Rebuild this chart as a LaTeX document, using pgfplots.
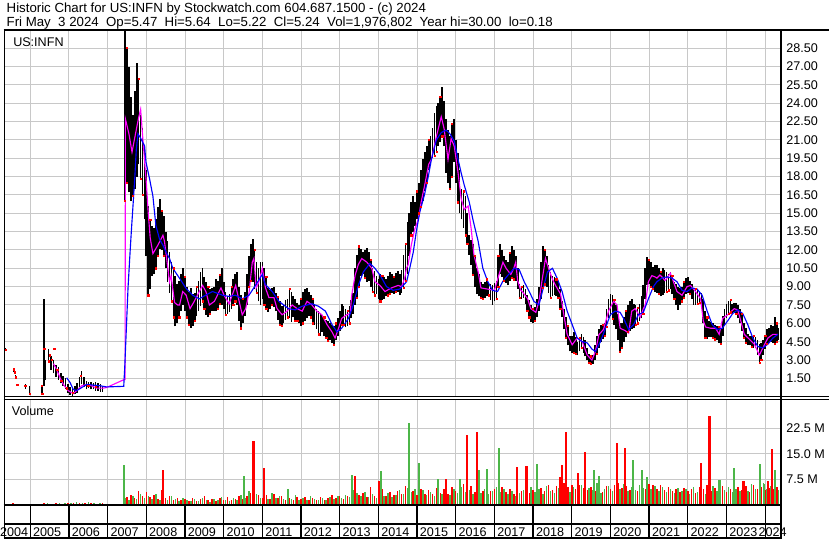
\documentclass[border=0pt]{standalone}
\usepackage{fontspec}
\setmainfont{Liberation Sans}
\usepackage{pgfplots}
\usepackage{pgfplotstable}
\pgfplotsset{compat=1.18}
\definecolor{gridc}{RGB}{200,200,200}
\definecolor{vgreen}{RGB}{76,182,72}
\definecolor{vred}{RGB}{255,0,0}
\definecolor{mag}{RGB}{255,0,255}
\definecolor{ablue}{RGB}{0,0,255}
\newcommand{\fs}{\fontsize{9.5}{11}\selectfont}
\newcommand{\ft}{\fontsize{10}{12}\selectfont}

\pgfplotstableread{
Y lo hi
2004.36 3.75 3.95
2004.57 2.0 2.3
2004.62 1.6 1.8
2004.66 0.9 1.05
2004.87 0.65 1.0
2004.98 0.25 0.9
2005.30 0.2 0.95
2005.36 0.9 8.0
2005.39 1.4 3.0
2005.47 2.9 3.9
2005.53 2.2 3.3
2005.60 1.9 3.0
2005.66 1.6 2.6
2005.73 1.4 2.4
2005.79 1.1 1.9
2005.85 0.9 1.7
2005.91 0.6 1.5
2005.97 0.3 1.0
2006.03 0.15 0.8
2006.09 0.05 0.7
2006.15 0.2 0.9
2006.21 0.3 1.1
2006.27 0.8 1.6
2006.33 1.0 2.1
2006.39 0.8 1.6
2006.45 0.6 1.3
2006.51 0.7 1.2
2006.57 0.6 1.2
2006.63 0.6 1.1
2006.69 0.5 1.2
2006.75 0.5 1.1
2006.81 0.4 1.0
2006.87 0.4 0.9
}\pre

\pgfplotstableread{
Y lo hi
2007.45 16.0 30.0
2007.55 16.7 27.0
2007.65 16.4 23.0
2007.75 18.0 27.3
2007.85 17.8 23.0
2007.95 14.5 20.5
2008.05 8.3 15.6
2008.15 9.9 14.0
2008.25 10.5 14.5
2008.35 12.1 16.2
2008.45 11.5 14.8
2008.55 9.4 12.7
2008.65 7.8 11.0
2008.75 5.75 9.9
2008.85 6.5 9.5
2008.95 7.5 10.5
2009.05 6.5 9.0
2009.15 5.6 8.9
2009.25 6.2 8.5
2009.35 7.0 9.5
2009.45 7.8 10.5
2009.55 6.7 9.4
2009.65 6.8 8.8
2009.75 7.0 9.0
2009.85 7.2 9.5
2009.95 7.5 10.5
2010.05 6.7 8.6
2010.15 6.9 8.4
2010.25 7.5 9.6
2010.35 7.5 10.2
2010.45 5.6 8.3
2010.55 6.6 8.6
2010.65 9.0 11.5
2010.75 9.4 12.9
2010.85 8.5 11.0
2010.95 7.5 11.0
2011.05 7.5 10.5
2011.15 6.96 8.9
2011.25 7.5 8.9
2011.35 7.0 8.5
2011.45 5.9 7.8
2011.55 6.0 7.5
2011.65 6.5 8.0
2011.75 6.15 8.6
2011.85 6.2 8.0
2011.95 6.0 7.5
2012.05 6.0 8.6
2012.15 6.4 8.9
2012.25 6.5 8.3
2012.35 5.9 7.6
2012.45 5.1 7.0
2012.55 5.3 6.7
2012.65 4.8 6.3
2012.75 4.6 6.0
2012.85 4.25 5.8
2012.95 5.0 6.4
2013.05 5.9 7.6
2013.15 5.7 7.2
2013.25 6.0 7.4
2013.35 6.8 8.5
2013.45 8.1 11.6
2013.55 9.9 12.1
2013.65 9.7 12.0
2013.75 9.5 11.8
2013.85 8.6 10.5
2013.95 8.4 9.9
2014.05 7.8 10.0
2014.15 8.0 9.8
2014.25 8.3 9.9
2014.35 8.5 10.0
2014.45 8.6 10.1
2014.55 8.3 10.0
2014.65 8.9 11.6
2014.75 10.0 14.3
2014.85 13.2 15.9
2014.95 14.0 15.9
2015.05 15.0 17.5
2015.15 16.0 19.4
2015.25 17.5 20.5
2015.35 19.0 21.3
2015.45 19.7 23.2
2015.55 20.5 24.0
2015.65 21.3 25.3
2015.75 18.3 22.7
2015.85 17.0 21.3
2015.95 19.2 22.7
2016.05 15.9 19.9
2016.15 14.5 17.0
2016.25 13.2 16.4
2016.35 11.6 13.2
2016.45 10.0 12.5
2016.55 8.4 10.5
2016.65 8.1 9.4
2016.75 8.1 9.4
2016.85 8.3 9.3
2016.95 7.5 9.1
2017.05 8.0 9.5
2017.15 10.0 12.5
2017.25 9.5 11.5
2017.35 9.1 11.0
2017.45 9.7 12.3
2017.55 9.5 11.5
2017.65 8.1 9.2
2017.75 8.1 9.1
2017.85 7.0 8.3
2017.95 6.1 7.5
2018.05 6.2 7.3
2018.15 7.0 9.0
2018.25 8.9 12.3
2018.35 9.0 11.5
2018.45 8.1 10.2
2018.55 8.3 9.8
2018.65 8.1 9.5
2018.75 6.5 7.8
2018.85 4.8 6.5
2018.95 3.7 5.0
2019.05 3.6 5.3
2019.15 3.4 4.5
2019.25 4.0 5.1
2019.35 3.3 4.6
2019.45 2.8 3.5
2019.55 2.7 3.4
2019.65 3.5 5.0
2019.75 4.5 5.9
2019.85 5.0 6.0
2019.95 6.4 8.0
2020.05 6.4 8.3
2020.15 5.5 7.5
2020.25 3.7 6.0
2020.35 4.5 6.5
2020.45 5.3 7.5
2020.55 5.5 8.0
2020.65 5.9 7.5
2020.75 6.2 7.6
2020.85 6.8 9.1
2020.95 9.1 11.4
2021.05 9.0 11.0
2021.15 8.6 10.8
2021.25 8.4 10.5
2021.35 8.3 10.5
2021.45 8.6 10.2
2021.55 8.8 10.2
2021.65 8.0 9.4
2021.75 7.1 9.0
2021.85 7.8 9.0
2021.95 8.4 9.7
2022.05 8.4 9.5
2022.15 7.5 8.9
2022.25 7.6 8.7
2022.35 7.5 8.5
2022.45 4.8 7.0
2022.55 4.9 6.2
2022.65 4.8 6.0
2022.75 4.6 5.8
2022.85 4.3 5.6
2022.95 5.9 7.2
2023.05 6.8 7.8
2023.15 6.8 7.6
2023.25 6.8 7.7
2023.35 6.0 7.2
2023.45 4.8 6.0
2023.55 4.2 5.1
2023.65 4.1 5.0
2023.75 4.0 4.9
2023.85 2.8 4.3
2023.95 3.4 4.6
2024.05 4.3 5.5
2024.15 4.5 5.9
2024.25 4.3 6.5
2024.33 4.6 5.6
}\bars

\pgfplotstableread{
Y lo hi
2007.50 17.5 28.5
2007.60 16.0 24.5
2007.70 17.0 25.0
2007.80 19.0 26.0
2007.90 16.5 22.0
2008.00 11.5 18.5
2008.10 8.8 14.5
2008.20 10.0 13.8
2008.30 11.5 15.5
2008.40 12.0 15.2
2008.50 10.5 13.5
2008.60 8.5 11.8
2008.70 6.5 10.5
2008.80 6.0 9.2
2008.90 7.0 10.0
2009.00 7.0 9.8
2009.10 5.9 8.6
2009.20 5.8 8.4
2009.30 6.6 9.0
2009.40 7.4 10.2
2009.50 7.2 9.8
2009.60 6.5 9.0
2009.70 7.0 8.9
2009.80 7.0 9.6
2009.90 7.6 10.0
2010.00 7.2 9.4
2010.10 6.8 8.2
2010.20 7.2 9.0
2010.30 7.8 10.0
2010.40 6.2 9.0
2010.50 6.0 8.0
2010.60 7.5 10.0
2010.70 9.5 12.5
2010.80 8.8 12.0
2010.90 7.8 10.5
2011.00 8.0 11.0
2011.10 7.2 9.8
2011.20 7.2 8.7
2011.30 7.3 9.0
2011.40 6.3 8.2
2011.50 5.8 7.4
2011.60 6.3 7.9
2011.70 6.4 8.8
2011.80 6.5 8.2
2011.90 6.2 7.7
2012.00 5.8 8.0
2012.10 6.2 8.8
2012.20 6.6 8.6
2012.30 6.0 8.0
2012.40 5.5 7.2
2012.50 5.0 6.8
2012.60 5.0 6.5
2012.70 4.6 6.2
2012.80 4.4 5.9
2012.90 4.6 6.0
2013.00 5.4 7.0
2013.10 5.9 7.4
2013.20 5.8 7.0
2013.30 6.4 7.9
2013.40 7.5 10.5
2013.50 9.0 12.3
2013.60 10.0 11.8
2013.70 9.4 12.2
2013.80 9.0 11.2
2013.90 8.3 10.3
2014.00 8.0 9.6
2014.10 7.9 9.9
2014.20 8.2 9.6
2014.30 8.4 10.2
2014.40 8.4 9.8
2014.50 8.6 10.3
2014.60 8.5 10.4
2014.70 9.5 12.5
2014.80 11.5 15.0
2014.90 13.5 16.4
2015.00 14.5 16.8
2015.10 15.5 18.5
2015.20 16.8 20.0
2015.30 18.5 21.0
2015.40 19.5 22.0
2015.50 20.0 23.8
2015.60 20.8 24.5
2015.70 20.5 24.2
2015.80 17.5 21.8
2015.90 18.0 22.3
2016.00 17.5 21.0
2016.10 15.0 18.5
2016.20 13.8 16.8
2016.30 12.5 15.0
2016.40 10.8 12.8
2016.50 9.0 11.5
2016.60 8.2 10.0
2016.70 8.0 9.2
2016.80 8.2 9.6
2016.90 7.9 9.2
2017.00 7.8 9.3
2017.10 9.0 11.5
2017.20 9.8 12.0
2017.30 9.3 11.2
2017.40 9.5 11.8
2017.50 9.6 12.0
2017.60 8.8 10.5
2017.70 8.0 9.0
2017.80 7.6 8.8
2017.90 6.5 7.9
2018.00 6.0 7.2
2018.10 6.5 8.0
2018.20 8.0 11.0
2018.30 9.2 12.0
2018.40 8.5 10.8
2018.50 8.2 9.9
2018.60 8.2 9.6
2018.70 7.2 8.8
2018.80 5.5 7.2
2018.90 4.2 5.8
2019.00 3.6 5.0
2019.10 3.5 4.9
2019.20 3.7 4.8
2019.30 3.6 4.9
2019.40 3.0 4.0
2019.50 2.7 3.3
2019.60 3.0 4.2
2019.70 4.0 5.5
2019.80 4.7 5.9
2019.90 5.7 7.2
2020.00 6.6 8.4
2020.10 5.9 7.9
2020.20 4.6 6.8
2020.30 4.0 6.0
2020.40 4.9 7.0
2020.50 5.4 7.8
2020.60 5.6 7.6
2020.70 6.0 7.3
2020.80 6.4 8.2
2020.90 8.0 10.5
2021.00 9.2 11.2
2021.10 8.8 10.6
2021.20 8.5 10.8
2021.30 8.2 10.2
2021.40 8.5 10.4
2021.50 8.7 10.0
2021.60 8.4 9.9
2021.70 7.5 9.2
2021.80 7.5 8.9
2021.90 8.1 9.4
2022.00 8.5 9.8
2022.10 8.0 9.2
2022.20 7.5 8.8
2022.30 7.7 8.6
2022.40 6.0 8.0
2022.50 4.7 6.5
2022.60 4.9 6.1
2022.70 4.7 5.9
2022.80 4.4 5.7
2022.90 5.0 6.6
2023.00 6.4 7.6
2023.10 6.9 7.9
2023.20 6.9 7.7
2023.30 6.4 7.5
2023.40 5.4 6.8
2023.50 4.4 5.6
2023.60 4.2 5.0
2023.70 4.0 5.0
2023.80 3.4 4.6
2023.90 3.0 4.4
2024.00 3.9 5.0
2024.10 4.4 5.6
2024.20 4.4 5.8
2024.30 4.5 6.0
}\barsb

\begin{document}
\begin{tikzpicture}
\begin{scope}[x=0.75pt,y=0.75pt]
\useasboundingbox (0,0) rectangle (830,543);
\fill[white] (0,0) rectangle (830,543);
\end{scope}

% ---------- price panel ----------
\begin{axis}[
  at={(0.75pt,108pt)}, anchor=south west,
  scale only axis, width=585pt, height=276.75pt,
  xmin=2004.3393, xmax=2024.3907, ymin=0, ymax=30,
  axis line style={draw=none},
  xtick={2005,2006,...,2024}, xticklabels={},
  ytick={1.5,3,4.5,6,7.5,9,10.5,12,13.5,15,16.5,18,19.5,21,22.5,24,25.5,27,28.5},
  yticklabel pos=right,
  grid=major, major grid style={gridc, line width=0.75pt},
  major tick length=0pt,
  yticklabel style={anchor=west, inner sep=0pt, xshift=4.3pt, font=\fs,
    /pgf/number format/.cd, fixed, fixed zerofill, precision=2, assume math mode=true},
  clip=true,
]
\addplot[draw=none, mark=none, forget plot, error bars/.cd, y dir=plus, y explicit, error mark=none,
  error bar style={line width=1.1pt, black}]
  table[x=Y, y=lo, y error expr=\thisrow{hi}-\thisrow{lo}] {\pre};
\addplot[draw=none, mark=none, forget plot, error bars/.cd, y dir=plus, y explicit, error mark=none,
  error bar style={line width=1.3pt, black}]
  table[x=Y, y=lo, y error expr=\thisrow{hi}-\thisrow{lo}] {\bars};
\addplot[draw=none, mark=none, forget plot, error bars/.cd, y dir=plus, y explicit, error mark=none,
  error bar style={line width=1.3pt, black}]
  table[x=Y, y=lo, y error expr=\thisrow{hi}-\thisrow{lo}] {\barsb};
\addplot[only marks, mark=square*, mark size=0.45pt, vred, each nth point=2] table[x=Y, y=lo] {\bars};
\addplot[only marks, mark=square*, mark size=0.45pt, vred, each nth point=3] table[x=Y, y=hi] {\barsb};
\addplot[only marks, mark=square*, mark size=0.45pt, vred, each nth point=4] table[x=Y, y=lo] {\barsb};
\addplot[only marks, mark=square*, mark size=0.5pt, vred] coordinates {
(2004.36,3.85) (2004.57,2.25) (2004.60,2.0) (2004.63,1.6) (2004.66,1.0) (2004.87,0.9) (2004.98,0.25)
(2005.30,0.9) (2005.31,0.25) (2005.36,3.9) (2005.47,2.9) (2005.51,3.4) (2005.62,3.9) (2005.56,3.0)
(2005.70,2.2) (2005.80,1.3) (2005.95,0.7) (2006.10,0.3) (2006.30,1.7) (2006.50,0.9) (2006.70,0.8)};
\addplot[mag, line width=0.85pt] coordinates {
(2005.60,2.7) (2005.685,2.2) (2005.77,1.55) (2005.856,1.0) (2005.98,0.5) (2006.11,0.25) (2006.20,0.5)
(2006.33,0.9) (2006.46,1.0) (2006.58,0.9) (2006.71,0.7) (2006.88,0.7) (2006.97,0.75) (2007.424,1.4)
(2007.45,1.4) (2007.46,22.7) (2007.55,21.5) (2007.63,20.0) (2007.72,21.5) (2007.80,22.8) (2007.853,23.5)
(2007.90,21.5) (2007.95,19.5) (2008.00,17.5) (2008.05,15.0) (2008.10,13.0) (2008.17,11.7) (2008.30,12.4)
(2008.43,13.2) (2008.47,12.7) (2008.60,9.4) (2008.64,9.9) (2008.73,7.7) (2008.81,7.5) (2008.86,7.5)
(2008.94,8.6) (2009.03,8.3) (2009.13,7.2) (2009.24,7.8) (2009.37,8.6) (2009.455,9.1) (2009.54,8.6)
(2009.63,7.5) (2009.76,7.8) (2009.93,8.9) (2010.01,8.3) (2010.14,7.6) (2010.31,9.1) (2010.40,7.8)
(2010.48,6.7) (2010.57,7.2) (2010.66,8.6) (2010.74,11.0) (2010.78,11.3) (2010.84,8.9) (2010.91,9.4)
(2011.00,10.5) (2011.08,8.9) (2011.17,8.1) (2011.30,8.1) (2011.38,7.2) (2011.51,6.7) (2011.64,7.0)
(2011.77,7.5) (2011.90,7.2) (2012.03,7.0) (2012.155,7.8) (2012.28,7.5) (2012.41,7.0) (2012.54,6.7)
(2012.67,5.9) (2012.80,5.3) (2012.88,4.8) (2012.97,5.6) (2013.05,6.4) (2013.18,6.7) (2013.27,6.8)
(2013.31,8.3) (2013.40,9.95) (2013.48,10.8) (2013.57,11.3) (2013.70,11.0) (2013.83,10.5) (2013.91,9.4)
(2014.04,9.1) (2014.17,8.6) (2014.34,8.9) (2014.51,9.1) (2014.60,9.0) (2014.68,9.7) (2014.725,10.5)
(2014.77,10.8) (2014.85,12.4) (2014.94,13.7) (2015.03,14.5) (2015.11,16.0) (2015.19,17.2) (2015.30,19.0)
(2015.37,19.4) (2015.50,21.3) (2015.625,22.9) (2015.70,21.9) (2015.80,19.4) (2015.88,21.1) (2015.96,20.5)
(2016.06,18.3) (2016.14,16.2) (2016.22,15.3) (2016.32,15.6) (2016.40,13.7) (2016.47,11.6) (2016.58,10.2)
(2016.65,8.9) (2016.82,8.8) (2017.00,8.7) (2017.12,10.0) (2017.17,10.5) (2017.22,11.0) (2017.30,10.5)
(2017.425,10.0) (2017.50,10.5) (2017.55,11.0) (2017.60,9.5) (2017.68,8.7) (2017.72,8.6) (2017.86,8.0)
(2017.94,7.2) (2018.07,6.9) (2018.15,7.8) (2018.24,9.7) (2018.32,11.3) (2018.41,10.4) (2018.50,9.6)
(2018.58,9.1) (2018.71,8.4) (2018.80,6.6) (2018.88,5.1) (2019.01,4.25) (2019.14,4.8) (2019.27,4.5)
(2019.40,3.4) (2019.52,3.0) (2019.61,3.7) (2019.70,5.07) (2019.82,5.5) (2019.95,7.0) (2020.08,7.8)
(2020.17,7.5) (2020.25,5.6) (2020.38,5.4) (2020.47,5.2) (2020.55,7.0) (2020.64,7.2) (2020.77,6.5)
(2020.85,7.2) (2020.90,7.5) (2020.98,9.4) (2021.07,9.9) (2021.15,9.8) (2021.20,9.7) (2021.28,9.95)
(2021.33,9.8) (2021.41,9.5) (2021.46,9.7) (2021.55,10.1) (2021.64,9.3) (2021.72,8.6) (2021.85,8.3)
(2021.98,9.0) (2022.07,9.1) (2022.20,8.6) (2022.33,8.0) (2022.40,6.2) (2022.46,5.7) (2022.59,5.6)
(2022.72,5.6) (2022.81,5.1) (2022.90,6.4) (2023.03,6.7) (2023.20,7.2) (2023.29,7.1) (2023.37,6.2)
(2023.46,5.1) (2023.59,4.7) (2023.72,4.3) (2023.85,3.4) (2023.94,4.0) (2024.07,4.8) (2024.20,5.1)
(2024.33,5.1)};
\addplot[ablue, line width=0.85pt] coordinates {
(2005.94,1.55) (2006.03,1.15) (2006.11,0.6) (2006.20,0.5) (2006.33,0.75) (2006.46,1.0) (2006.63,0.95)
(2006.80,0.9) (2006.97,0.8) (2007.416,0.85) (2007.442,2.4) (2007.484,5.6) (2007.527,8.9) (2007.57,11.3)
(2007.612,13.5) (2007.655,15.6) (2007.70,17.8) (2007.74,20.2) (2007.784,21.5) (2007.861,21.1)
(2007.956,20.5) (2007.99,19.2) (2008.085,17.8) (2008.17,16.4) (2008.247,14.0) (2008.34,12.9)
(2008.427,12.4) (2008.50,11.9) (2008.60,11.3) (2008.684,10.5) (2008.856,9.7) (2009.018,8.9)
(2009.198,8.3) (2009.37,8.0) (2009.53,8.3) (2009.712,8.6) (2009.97,8.3) (2010.14,8.2) (2010.30,8.3)
(2010.48,8.0) (2010.655,8.3) (2010.82,9.1) (2011.0,10.0) (2011.07,9.2) (2011.255,8.6) (2011.426,7.8)
(2011.68,7.2) (2011.85,7.1) (2012.03,7.4) (2012.28,7.6) (2012.45,7.4) (2012.63,7.0) (2012.80,5.9)
(2012.93,5.3) (2013.05,5.6) (2013.225,6.4) (2013.35,7.5) (2013.48,9.1) (2013.61,10.2) (2013.78,10.9)
(2013.91,10.5) (2014.04,9.95) (2014.21,9.0) (2014.38,8.7) (2014.55,8.8) (2014.73,9.4) (2014.81,10.5)
(2014.90,11.8) (2014.98,13.5) (2015.07,15.1) (2015.19,16.5) (2015.29,18.0) (2015.37,19.4) (2015.50,21.0)
(2015.625,21.6) (2015.75,21.8) (2015.85,21.5) (2015.96,20.9) (2016.06,19.4) (2016.14,18.3) (2016.22,17.3)
(2016.35,15.9) (2016.45,14.4) (2016.58,12.7) (2016.70,10.5) (2016.83,9.4) (2016.95,8.7) (2017.08,8.6)
(2017.21,9.4) (2017.34,9.9) (2017.51,10.5) (2017.64,10.4) (2017.77,9.4) (2017.90,8.6) (2018.02,7.8)
(2018.15,7.5) (2018.24,8.6) (2018.37,10.2) (2018.50,10.5) (2018.62,9.7) (2018.75,8.6) (2018.88,7.0)
(2019.01,5.9) (2019.14,4.8) (2019.27,4.5) (2019.40,4.4) (2019.52,3.9) (2019.61,3.7) (2019.74,4.5)
(2019.87,5.6) (2019.995,6.7) (2020.12,7.0) (2020.25,6.9) (2020.34,6.4) (2020.47,5.5) (2020.60,5.9)
(2020.72,6.7) (2020.85,6.9) (2020.98,8.0) (2021.11,9.0) (2021.20,9.4) (2021.33,9.7) (2021.46,9.8)
(2021.59,9.7) (2021.72,9.4) (2021.85,8.7) (2021.98,8.6) (2022.11,8.9) (2022.24,8.8) (2022.37,8.3)
(2022.50,7.0) (2022.63,5.9) (2022.76,5.5) (2022.89,5.6) (2023.03,6.2) (2023.16,6.8) (2023.29,7.1)
(2023.42,6.8) (2023.55,5.9) (2023.68,4.8) (2023.81,4.1) (2023.94,4.0) (2024.07,4.3) (2024.20,4.8)
(2024.33,5.1)};
\end{axis}

% ---------- volume panel ----------
\begin{axis}[
  at={(0.75pt,26.25pt)}, anchor=south west,
  scale only axis, width=585pt, height=79.5pt,
  xmin=2004.3393, xmax=2024.3907, ymin=0, ymax=30.9,
  axis line style={draw=none},
  xtick={2005,2006,...,2024}, xticklabels={},
  ytick={7.5,15,22.5}, yticklabels={7.5 M,15.0 M,22.5 M},
  yticklabel pos=right,
  grid=major, major grid style={gridc, line width=0.75pt},
  major tick length=0pt,
  yticklabel style={anchor=west, inner sep=0pt, xshift=4.3pt, font=\fs},
  clip=true,
]
\addplot[ycomb, vgreen, line width=1.1pt] coordinates {
(2005.30,0.3) (2005.45,0.5) (2005.60,0.4) (2005.75,0.6) (2005.90,0.5) (2006.05,0.7) (2006.20,0.9)
(2006.35,0.6) (2006.50,0.8) (2006.65,0.5) (2006.80,0.6)
(2007.45,2.0) (2007.55,1.6) (2007.65,2.8) (2007.75,1.9) (2007.85,3.2) (2007.95,2.2) (2008.05,2.6)
(2008.15,1.7) (2008.25,3.3) (2008.35,1.5) (2008.45,2.0) (2008.55,1.4) (2008.65,2.6) (2008.75,1.8)
(2008.85,1.2) (2008.95,2.1) (2009.05,1.5) (2009.15,1.1) (2009.25,1.8) (2009.35,1.3) (2009.45,2.2)
(2009.55,1.4) (2009.65,1.0) (2009.75,1.9) (2009.85,1.5) (2009.95,2.4) (2010.05,1.6) (2010.15,1.3)
(2010.25,2.0) (2010.35,1.5) (2010.45,3.0) (2010.55,2.2) (2010.65,4.0) (2010.75,2.6) (2010.85,3.2)
(2010.95,2.0) (2011.05,2.8) (2011.15,1.9) (2011.25,3.5) (2011.35,2.2) (2011.45,2.6) (2011.55,1.7)
(2011.65,2.4) (2011.75,1.8) (2011.85,3.0) (2011.95,1.6) (2012.05,2.2) (2012.15,1.5) (2012.25,2.6)
(2012.35,1.8) (2012.45,1.4) (2012.55,2.1) (2012.65,1.6) (2012.75,2.5) (2012.85,1.9) (2012.95,2.8)
(2013.05,2.2) (2013.15,3.1) (2013.25,2.4) (2013.35,4.5) (2013.45,3.6) (2013.55,2.6) (2013.65,3.8)
(2013.75,2.5) (2013.85,3.2) (2013.95,2.2) (2014.05,4.2) (2014.15,2.8) (2014.25,3.6) (2014.35,2.4)
(2014.45,3.0) (2014.55,4.4) (2014.65,3.2) (2014.75,5.0) (2014.85,3.8) (2014.95,4.6) (2015.05,3.5)
(2015.15,4.4) (2015.25,3.0) (2015.35,3.9) (2015.45,2.8) (2015.55,4.8) (2015.65,3.4) (2015.75,4.1)
(2015.85,3.0) (2015.95,4.6) (2016.05,3.6) (2016.15,5.2) (2016.25,3.8) (2016.35,4.4) (2016.45,3.2)
(2016.55,5.0) (2016.65,3.6) (2016.75,4.8) (2016.85,3.4) (2016.95,4.0) (2017.05,5.4) (2017.15,3.8)
(2017.25,4.6) (2017.35,3.2) (2017.45,4.2) (2017.55,2.8) (2017.65,3.6) (2017.75,4.4) (2017.85,3.0)
(2017.95,5.2) (2018.05,3.8) (2018.15,4.8) (2018.25,3.4) (2018.35,5.6) (2018.45,4.2) (2018.55,3.6)
(2018.65,5.0) (2018.75,4.0) (2018.85,4.6) (2018.95,3.8) (2019.05,5.4) (2019.15,4.2) (2019.25,6.0)
(2019.35,3.8) (2019.45,5.0) (2019.55,4.4) (2019.65,6.4) (2019.75,3.6) (2019.85,4.8) (2019.95,5.6)
(2020.05,4.2) (2020.15,5.8) (2020.25,4.6) (2020.35,6.2) (2020.45,4.0) (2020.55,5.4) (2020.65,4.4)
(2020.75,6.0) (2020.85,5.0) (2020.95,6.6) (2021.05,4.8) (2021.15,5.6) (2021.25,4.2) (2021.35,5.2)
(2021.45,3.8) (2021.55,4.6) (2021.65,3.6) (2021.75,5.0) (2021.85,4.0) (2021.95,4.6) (2022.05,3.4)
(2022.15,5.2) (2022.25,3.8) (2022.35,4.4) (2022.45,3.2) (2022.55,4.8) (2022.65,5.6) (2022.75,4.0)
(2022.85,6.0) (2022.95,4.4) (2023.05,5.2) (2023.15,3.8) (2023.25,4.8) (2023.35,4.2) (2023.45,5.6)
(2023.55,4.0) (2023.65,6.2) (2023.75,4.6) (2023.85,5.4) (2023.95,6.6) (2024.05,4.8) (2024.15,5.6)
(2024.25,6.0) (2024.35,4.4)};
\addplot[ycomb, vred, line width=1.1pt] coordinates {
(2004.40,0.4) (2004.55,0.5) (2004.70,0.3) (2004.85,0.4) (2005.35,0.6) (2005.52,0.4) (2005.67,0.5)
(2005.82,0.4) (2005.97,0.6) (2006.12,0.5) (2006.27,0.7) (2006.42,0.5) (2006.57,0.6) (2006.72,0.4)
(2006.87,0.5)
(2007.50,2.4) (2007.60,3.0) (2007.70,2.2) (2007.80,4.2) (2007.90,2.6) (2008.00,3.8) (2008.10,2.4)
(2008.20,2.9) (2008.30,1.9) (2008.40,4.5) (2008.50,2.0) (2008.60,2.8) (2008.70,1.6) (2008.80,2.2)
(2008.90,1.4) (2009.00,1.9) (2009.10,1.3) (2009.20,2.0) (2009.30,1.2) (2009.40,1.7) (2009.50,2.8)
(2009.60,1.5) (2009.70,1.8) (2009.80,1.3) (2009.90,2.0) (2010.00,1.5) (2010.10,2.3) (2010.20,1.4)
(2010.30,1.8) (2010.40,2.6) (2010.50,1.9) (2010.60,2.8) (2010.70,3.6) (2010.80,2.4) (2010.90,3.0)
(2011.00,2.2) (2011.10,2.9) (2011.20,1.8) (2011.30,3.3) (2011.40,2.0) (2011.50,2.7) (2011.60,1.6)
(2011.70,2.2) (2011.80,1.5) (2011.90,2.5) (2012.00,1.8) (2012.10,2.3) (2012.20,1.4) (2012.30,2.0)
(2012.40,1.6) (2012.50,2.4) (2012.60,1.5) (2012.70,2.2) (2012.80,3.0) (2012.90,2.1) (2013.00,2.6)
(2013.10,1.9) (2013.20,2.7) (2013.30,3.4) (2013.40,4.0) (2013.50,2.9) (2013.60,3.6) (2013.70,2.4)
(2013.80,5.2) (2013.90,2.8) (2014.00,3.4) (2014.10,4.6) (2014.20,2.6) (2014.30,3.8) (2014.40,2.9)
(2014.50,4.0) (2014.60,3.3) (2014.70,5.6) (2014.80,3.6) (2014.90,4.2) (2015.00,3.0) (2015.10,4.8)
(2015.20,3.4) (2015.30,4.4) (2015.40,3.2) (2015.50,5.0) (2015.60,3.6) (2015.70,4.6) (2015.80,3.4)
(2015.90,5.4) (2016.00,4.0) (2016.10,4.8) (2016.20,6.2) (2016.30,4.4) (2016.40,5.6) (2016.50,3.8)
(2016.60,5.0) (2016.70,4.2) (2016.80,5.8) (2016.90,4.0) (2017.00,4.6) (2017.10,3.6) (2017.20,5.2)
(2017.30,3.8) (2017.40,4.8) (2017.50,3.4) (2017.60,5.4) (2017.70,4.0) (2017.80,4.6) (2017.90,3.6)
(2018.00,4.4) (2018.10,3.8) (2018.20,5.0) (2018.30,4.2) (2018.40,6.0) (2018.50,4.4) (2018.60,5.6)
(2018.70,4.8) (2018.80,6.4) (2018.90,5.2) (2019.00,5.8) (2019.10,4.6) (2019.20,6.0) (2019.30,5.0)
(2019.40,4.4) (2019.50,5.4) (2019.60,4.2) (2019.70,5.0) (2019.80,3.8) (2019.90,5.6) (2020.00,4.6)
(2020.10,5.8) (2020.20,6.4) (2020.30,5.0) (2020.40,5.6) (2020.50,4.4) (2020.60,5.2) (2020.70,4.0)
(2020.80,5.8) (2020.90,4.6) (2021.00,6.2) (2021.10,5.8) (2021.20,4.8) (2021.30,6.0) (2021.40,4.4)
(2021.50,5.2) (2021.60,4.0) (2021.70,4.8) (2021.80,3.8) (2021.90,5.0) (2022.00,4.2) (2022.10,4.8)
(2022.20,3.6) (2022.30,5.4) (2022.40,4.6) (2022.50,5.8) (2022.60,4.0) (2022.70,5.0) (2022.80,4.4)
(2022.90,5.6) (2023.00,3.8) (2023.10,4.6) (2023.20,4.0) (2023.30,5.2) (2023.40,4.4) (2023.50,5.6)
(2023.60,3.8) (2023.70,5.8) (2023.80,4.6) (2023.90,5.2) (2024.00,4.4) (2024.10,5.0) (2024.20,4.6)
(2024.30,5.4)};
\addplot[ycomb, vgreen, line width=1.6pt] coordinates {
(2007.42,11.8) (2010.52,8.4) (2011.66,4.8) (2013.31,8.9) (2014.07,9.9) (2014.79,24.1) (2015.06,12.4)
(2015.53,7.7) (2016.10,7.7) (2016.59,10.4) (2016.81,10.5) (2017.12,16.8) (2018.10,12.1) (2019.57,10.2)
(2019.70,8.5) (2020.59,13.3) (2020.82,10.3) (2020.95,8.1) (2022.82,7.4) (2023.20,10.9) (2023.86,12.1)
(2023.98,6.3) (2024.25,10.2)};
\addplot[ycomb, vred, line width=1.6pt] coordinates {
(2008.44,10.2) (2010.77,18.9) (2011.05,10.9) (2013.39,8.4) (2014.02,7.2) (2015.75,7.7) (2016.30,20.6)
(2016.55,21.3) (2017.58,11.3) (2017.83,11.4) (2018.70,8.3) (2018.74,11.8) (2018.84,21.3) (2019.16,9.5)
(2019.34,15.5) (2020.17,18.3) (2020.37,16.8) (2022.34,12.4) (2022.56,26.2) (2023.44,7.2) (2024.07,7.2)
(2024.18,16.4)};
\end{axis}

% ---------- date rows ----------
\begin{axis}[
  at={(0.75pt,1.5pt)}, anchor=south west,
  scale only axis, width=585pt, height=24.75pt,
  xmin=2004.3393, xmax=2024.3907, ymin=0, ymax=33,
  axis line style={draw=none},
  xtick={2005,2006,...,2024}, xticklabels={}, ytick=\empty,
  xmajorgrids, major grid style={black, line width=1pt},
  major tick length=0pt, clip=false,
]
\pgfplotsinvokeforeach{2005,2006,...,2023}{
  \node[anchor=base west, inner sep=0pt, font=\fs, xshift=2pt] at (axis cs:#1,1.6) {#1};
}
\node[anchor=base west, inner sep=0pt, font=\fs] at (axis cs:2004.21,1.6) {2004};
\node[anchor=base west, inner sep=0pt, font=\fs] at (axis cs:2023.825,1.6) {2024};
\end{axis}

% ---------- frame and texts ----------
\begin{scope}[x=0.75pt,y=0.75pt]
\draw[line width=1.5pt] (0,512.5) -- (830,512.5);
\draw[line width=0.75pt] (0,144.5) -- (830,144.5);
\draw[line width=0.75pt] (0,141) -- (830,141);
\draw[line width=1.5pt] (0,35) -- (782,35);
\draw[line width=1.5pt] (0,16) -- (782,16);
\draw[line width=1.5pt] (0,2) -- (782,2);
\draw[line width=1.5pt] (782,1.25) -- (782,512.5);
\draw[line width=0.75pt] (0.5,1.25) -- (0.5,512.5);
\node[anchor=base west, inner sep=0pt, font=\ft] at (2.7,530.3)
  {Historic Chart for US:INFN by Stockwatch.com 604.687.1500 - (c) 2024};
\node[anchor=base west, inner sep=0pt, font=\ft] at (2.7,516.3)
  {Fri May\ \ 3 2024\ \ Op=5.47\ \ Hi=5.64\ \ Lo=5.22\ \ Cl=5.24\ \ Vol=1,976,802\ \ Year hi=30.00\ \ lo=0.18};
\node[anchor=base west, inner sep=0pt, font=\fs] at (9.3,496.7) {US:INFN};
\node[anchor=base west, inner sep=0pt, font=\fs] at (8,125) {Volume};
\end{scope}
\end{tikzpicture}
\end{document}
